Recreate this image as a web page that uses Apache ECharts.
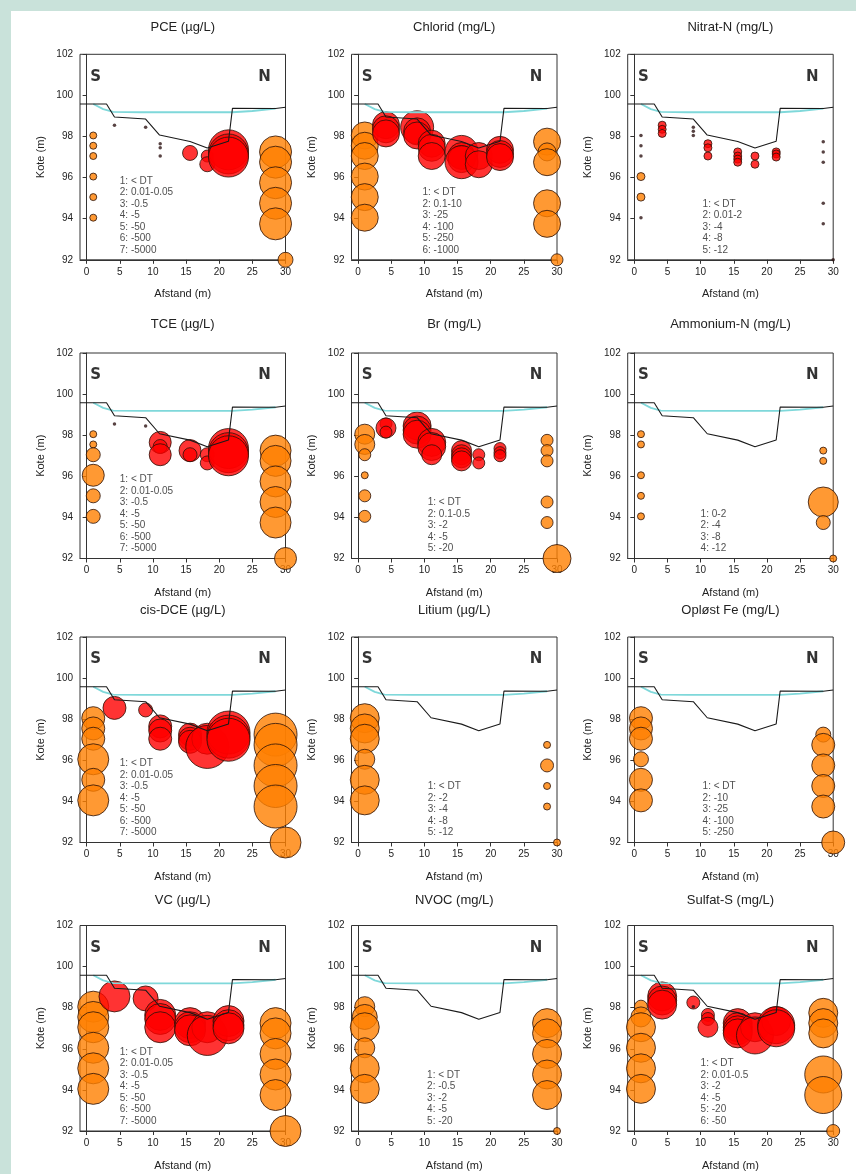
<!DOCTYPE html>
<html><head><meta charset="utf-8">
<script src="https://cdn.jsdelivr.net/npm/echarts@6/dist/echarts.min.js"></script>
<style>
html,body{margin:0;padding:0;background:#c9e2da;width:856px;height:1174px;overflow:hidden;}
#bg{position:absolute;left:11px;top:11px;width:845px;height:1163px;background:#fff;}
#chart{position:absolute;left:0;top:0;width:856px;height:1174px;}
</style></head><body>
<div id="bg"></div><div id="chart"></div>
<script>
// ---------- DATA ----------
// ground (stream bed) profile and water level
const groundX = [-1, 3.0, 4.2, 8.9, 11.0, 15.6, 18.2, 21.4, 22.0, 28.5, 30];
const groundY = [99.58, 99.58, 98.95, 98.85, 98.07, 97.76, 97.44, 97.77, 99.37, 99.36, 99.42];
const waterX = [1, 2.5, 4, 8, 22, 25, 28.5];
const waterY = [99.58, 99.33, 99.2, 99.18, 99.18, 99.24, 99.36];
const xTicks = [0, 5, 10, 15, 20, 25, 30];

// samples: [distance (m), kote (m), concentration class]
const pcePts = [[1,98.05,2],[1,97.55,2],[1,97.05,2],[1,96.05,2],[1,95.05,2],[1,94.05,2],
 [4.2,98.55,1],[8.9,98.45,1],[11.1,97.65,1],[11.1,97.45,1],[11.1,97.05,1],
 [15.6,97.2,4],[18.2,97.05,3],[18.2,96.65,4],
 [21.4,97.35,7],[21.4,97.15,7],[21.4,97.0,7],
 [28.5,97.25,6],[28.5,96.75,6],[28.5,95.75,6],[28.5,94.75,6],[28.5,93.75,6],[30,92,4]];
const chloridPts = [[1,98.05,5],[1,97.55,5],[1,97.05,5],[1,96.05,5],[1,95.05,5],[1,94.05,5],
 [4.2,98.55,5],[4.2,98.35,5],[4.2,98.15,5],
 [8.9,98.45,6],[8.9,98.25,5],[8.9,98.05,5],
 [11.1,97.65,5],[11.1,97.45,5],[11.1,97.05,5],
 [15.6,97.25,6],[15.6,97.05,5],[15.6,96.9,5],[15.6,96.75,6],
 [18.2,97.05,5],[18.2,96.65,5],
 [21.4,97.35,5],[21.4,97.15,5],[21.4,97.0,5],
 [28.5,97.75,5],[28.5,97.25,4],[28.5,96.75,5],[28.5,94.75,5],[28.5,93.75,5],[30,92,3]];
const nitratPts = [[1,98.05,1],[1,97.55,1],[1,97.05,1],[1,96.05,2],[1,95.05,2],[1,94.05,1],
 [4.2,98.55,2],[4.2,98.35,2],[4.2,98.15,2],
 [8.9,98.45,1],[8.9,98.25,1],[8.9,98.05,1],
 [11.1,97.65,2],[11.1,97.45,2],[11.1,97.05,2],
 [15.6,97.25,2],[15.6,97.05,2],[15.6,96.9,2],[15.6,96.75,2],
 [18.2,97.05,2],[18.2,96.65,2],
 [21.4,97.25,2],[21.4,97.15,2],[21.4,97.0,2],
 [28.5,97.75,1],[28.5,97.25,1],[28.5,96.75,1],[28.5,94.75,1],[28.5,93.75,1],[30,92,1]];
const tcePts = [[1,98.05,2],[1,97.55,2],[1,97.05,4],[1,96.05,5],[1,95.05,4],[1,94.05,4],
 [4.2,98.55,1],[8.9,98.45,1],
 [11.1,97.65,5],[11.1,97.45,4],[11.1,97.05,5],
 [15.6,97.25,5],[15.6,97.05,4],
 [18.2,97.05,4],[18.2,96.65,4],
 [21.4,97.35,7],[21.4,97.15,7],[21.4,97.0,7],
 [28.5,97.25,6],[28.5,96.75,6],[28.5,95.75,6],[28.5,94.75,6],[28.5,93.75,6],[30,92,5]];
const brPts = [[1,98.05,4],[1,97.55,4],[1,97.05,3],[1,96.05,2],[1,95.05,3],[1,94.05,3],
 [4.2,98.55,3],[4.2,98.35,4],[4.2,98.15,3],
 [8.9,98.45,5],[8.9,98.25,5],[8.9,98.05,5],
 [11.1,97.65,5],[11.1,97.45,5],[11.1,97.05,4],
 [15.6,97.25,4],[15.6,97.05,4],[15.6,96.9,4],[15.6,96.75,4],
 [18.2,97.05,3],[18.2,96.65,3],
 [21.4,97.35,3],[21.4,97.15,3],[21.4,97.0,3],
 [28.5,97.75,3],[28.5,97.25,3],[28.5,96.75,3],[28.5,94.75,3],[28.5,93.75,3],[30,92,5]];
const ammoniumPts = [[1,98.05,1],[1,97.55,1],[1,96.05,1],[1,95.05,1],[1,94.05,1],
 [28.5,97.25,1],[28.5,96.75,1],[28.5,94.75,4],[28.5,93.75,2],[30,92,1]];
const cisdcePts = [[1,98.05,5],[1,97.55,5],[1,97.05,5],[1,96.05,6],[1,95.05,5],[1,94.05,6],
 [4.2,98.55,5],[8.9,98.45,4],
 [11.1,97.65,5],[11.1,97.45,5],[11.1,97.05,5],
 [15.6,97.25,5],[15.6,97.05,5],[15.6,96.9,5],
 [18.2,97.05,6],[18.2,96.65,7],
 [21.4,97.35,7],[21.4,97.15,7],[21.4,97.0,7],
 [28.5,97.25,7],[28.5,96.75,7],[28.5,95.75,7],[28.5,94.75,7],[28.5,93.75,7],[30,92,6]];
const litiumPts = [[1,98.05,5],[1,97.55,5],[1,97.05,5],[1,96.05,4],[1,95.05,5],[1,94.05,5],
 [28.5,96.75,2],[28.5,95.75,3],[28.5,94.75,2],[28.5,93.75,2],[30,92,2]];
const fePts = [[1,98.05,4],[1,97.55,4],[1,97.05,4],[1,96.05,3],[1,95.05,4],[1,94.05,4],
 [28.5,97.25,3],[28.5,96.75,4],[28.5,95.75,4],[28.5,94.75,4],[28.5,93.75,4],[30,92,4]];
const vcPts = [[1,98.05,6],[1,97.55,6],[1,97.05,6],[1,96.05,6],[1,95.05,6],[1,94.05,6],
 [4.2,98.55,6],[8.9,98.45,5],
 [11.1,97.65,6],[11.1,97.45,6],[11.1,97.05,6],
 [15.6,97.25,6],[15.6,97.05,6],[15.6,96.9,6],
 [18.2,97.05,6],[18.2,96.65,7],
 [21.4,97.35,6],[21.4,97.15,6],[21.4,97.0,6],
 [28.5,97.25,6],[28.5,96.75,6],[28.5,95.75,6],[28.5,94.75,6],[28.5,93.75,6],[30,92,6]];
const nvocPts = [[1,98.05,3],[1,97.55,4],[1,97.05,5],[1,96.05,3],[1,95.05,5],[1,94.05,5],
 [28.5,97.25,5],[28.5,96.75,5],[28.5,95.75,5],[28.5,94.75,5],[28.5,93.75,5],[30,92,2]];
const sulfatPts = [[1,98.05,3],[1,97.55,4],[1,97.05,5],[1,96.05,5],[1,95.05,5],[1,94.05,5],
 [4.2,98.55,5],[4.2,98.35,5],[4.2,98.15,5],
 [8.9,98.25,3],[8.9,98.05,1],
 [11.1,97.65,3],[11.1,97.45,3],[11.1,97.05,4],
 [15.6,97.25,5],[15.6,97.05,5],[15.6,96.9,5],[15.6,96.75,5],
 [18.2,97.05,5],[18.2,96.65,6],
 [21.4,97.35,5],[21.4,97.15,6],[21.4,97.0,6],
 [28.5,97.75,5],[28.5,97.25,5],[28.5,96.75,5],[28.5,94.75,6],[28.5,93.75,6],[30,92,3]];

// class legends
const chlorinatedClasses = ['1: < DT','2: 0.01-0.05','3: -0.5','4: -5','5: -50','6: -500','7: -5000'];
const chloridClasses = ['1: < DT','2: 0.1-10','3: -25','4: -100','5: -250','6: -1000'];
const nitratClasses = ['1: < DT','2: 0.01-2','3: -4','4: -8','5: -12'];
const brClasses = ['1: < DT','2: 0.1-0.5','3: -2','4: -5','5: -20'];
const ammoniumClasses = ['1: 0-2','2: -4','3: -8','4: -12'];
const litiumClasses = ['1: < DT','2: -2','3: -4','4: -8','5: -12'];
const feClasses = ['1: < DT','2: -10','3: -25','4: -100','5: -250'];
const nvocClasses = ['1: < DT','2: -0.5','3: -2','4: -5','5: -20'];
const sulfatClasses = ['1: < DT','2: 0.01-0.5','3: -2','4: -5','5: -20','6: -50'];

const titles = ['PCE (µg/L)','Chlorid (mg/L)','Nitrat-N (mg/L)','TCE (µg/L)','Br (mg/L)','Ammonium-N (mg/L)',
  'cis-DCE (µg/L)','Litium (µg/L)','Opløst Fe (mg/L)','VC (µg/L)','NVOC (mg/L)','Sulfat-S (mg/L)'];
const panelPts = [pcePts, chloridPts, nitratPts, tcePts, brPts, ammoniumPts, cisdcePts, litiumPts, fePts, vcPts, nvocPts, sulfatPts];
const panelClasses = [chlorinatedClasses, chloridClasses, nitratClasses, chlorinatedClasses, brClasses, ammoniumClasses,
  chlorinatedClasses, litiumClasses, feClasses, chlorinatedClasses, nvocClasses, sulfatClasses];

// ---------- STYLE / LAYOUT ----------
const symbolSizes = [
  [3.5,7,12,15,22,32,40], [3.5,8,12,18,27,33], [3.5,8,11,14,18],
  [3.5,7,12,14,22,31,40], [3.5,7,12,20,28], [7,14,22,30],
  [3.5,7,12,14,23,31,43], [3.5,7,13,20,29], [3.5,8,15,23,30],
  [3.5,7,12,15,25,31,40], [3.5,7,20,25,29], [3.5,8,13,20,29,37]
];
const legendXs = [5,9.7,10.3, 5,10.5,10.0, 5,10.5,10.3, 5,10.4,10.0];
const colLeft = [80, 351.5, 627.7], colW = 205.5;
const rowTop = [54.3, 353, 637, 925.5], rowH = 205.5;
const titleY = [29, 326, 612, 902];
const FONT = '"Liberation Sans", Arial, sans-serif';
const ORANGE = '#ff8000', RED = '#ff0000', DOT = '#2e1414', EDGE = '#2a1208';

const option = {animation:false, title:[], grid:[], xAxis:[], yAxis:[], series:[]};
for (let i = 0; i < 12; i++) {
  const r = Math.floor(i/3), c = i%3;
  const left = colLeft[c], top = rowTop[r];
  const hasDT = panelClasses[i][0].indexOf('< DT') >= 0;
  option.title.push({text:titles[i], left:left+colW/2, top:titleY[r]-8, textAlign:'center', padding:0,
    textStyle:{fontFamily:FONT, fontSize:13, fontWeight:'normal', color:'#222'}});
  option.grid.push({left:left, top:top, width:colW, height:rowH, show:true, borderColor:'#333', borderWidth:1, backgroundColor:'transparent'});
  option.xAxis.push({type:'value', gridIndex:i, min:-1, max:30,
    name:'Afstand (m)', nameLocation:'middle', nameGap:29,
    nameTextStyle:{fontFamily:FONT, fontSize:11, color:'#222'},
    axisLine:{show:true, lineStyle:{color:'#333', width:1}},
    axisTick:{show:true, length:4, customValues:xTicks, lineStyle:{color:'#333'}},
    axisLabel:{customValues:xTicks, fontFamily:FONT, fontSize:10, color:'#222', margin:7},
    splitLine:{show:false}});
  option.yAxis.push({type:'value', gridIndex:i, min:92, max:102, interval:2,
    name:'Kote (m)', nameLocation:'middle', nameGap:34,
    nameTextStyle:{fontFamily:FONT, fontSize:11, color:'#222'},
    axisLine:{show:true, lineStyle:{color:'#333', width:1}},
    axisTick:{show:true, length:4, lineStyle:{color:'#333'}},
    axisLabel:{fontFamily:FONT, fontSize:10, color:'#222', margin:7},
    splitLine:{show:false}});
  const sizes = symbolSizes[i];
  option.series.push({type:'scatter', xAxisIndex:i, yAxisIndex:i, clip:false, silent:true, z:2,
    data: panelPts[i].map(p => {
      const isDT = hasDT && p[2] === 1;
      const bank = p[0] < 3 || p[0] > 25;
      return {value:p, symbolSize:sizes[p[2]-1],
        itemStyle: isDT ? {color:DOT, borderWidth:0}
                        : {color: bank ? ORANGE : RED, borderColor:EDGE, borderWidth:1}};
    })});
  option.series.push({type:'line', xAxisIndex:i, yAxisIndex:i, silent:true, z:4, showSymbol:false, symbol:'none',
    data: waterX.map((x,k)=>[x, waterY[k]]), lineStyle:{color:'#7fd8da', width:1.8}});
  option.series.push({type:'line', xAxisIndex:i, yAxisIndex:i, silent:true, z:5, showSymbol:false, symbol:'none',
    data: groundX.map((x,k)=>[x, groundY[k]]), lineStyle:{color:'#1a1a1a', width:1.1}});
  option.series.push({type:'scatter', xAxisIndex:i, yAxisIndex:i, silent:true, z:6, clip:false, symbolSize:1,
    itemStyle:{color:'rgba(0,0,0,0)'},
    label:{show:true, position:'inside', fontFamily:'"DejaVu Sans", sans-serif', fontWeight:'bold', fontSize:15, color:'#000',
      align:'center', verticalAlign:'middle', formatter: p => p.name},
    data:[{name:'S', value:[1.35,100.9]}, {name:'N', value:[26.85,100.9]}]});
  option.series.push({type:'scatter', xAxisIndex:i, yAxisIndex:i, silent:true, z:6, clip:false, symbolSize:1,
    itemStyle:{color:'rgba(0,0,0,0)'},
    label:{show:true, position:'inside', fontFamily:FONT, fontSize:10, color:'#222', lineHeight:11.5,
      align:'left', verticalAlign:'bottom', formatter: () => panelClasses[i].join('\n')},
    data:[{value:[legendXs[i], 92.2]}]});
}
const chart = echarts.init(document.getElementById('chart'), null, {renderer:'canvas'});
chart.setOption(option);
</script></body></html>
